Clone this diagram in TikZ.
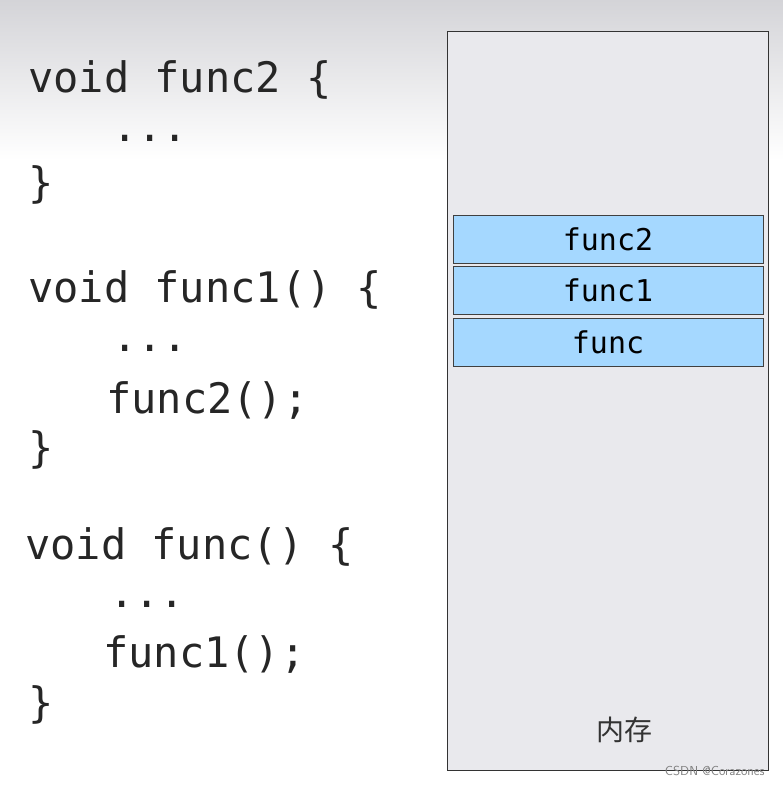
\documentclass[tikz,border=0pt]{standalone}
\usepackage{fontspec}
\setmonofont{DejaVu Sans Mono}
\newfontfamily\cjk{Noto Sans CJK SC}
\definecolor{memgray}{HTML}{E9E9ED}
\definecolor{framebg}{HTML}{D4D4D8}
\definecolor{stackblue}{HTML}{A5D8FF}
\tikzset{
  codeline/.style={anchor=west, inner sep=0pt, font=\ttfamily\fontsize{42}{44}\selectfont, text=black!85},
  frame/.style={draw=black!75, fill=stackblue, line width=0.8pt, minimum width=310pt, minimum height=48pt,
    inner sep=0pt, font=\ttfamily\fontsize{30}{32}\selectfont},
}
\begin{document}
\begin{tikzpicture}[x=1pt,y=-1pt]
			\useasboundingbox (0,0) rectangle (783,786);
			\fill[white] (0,0) rectangle (783,786);
			\shade[top color=framebg, bottom color=white] (0,0) rectangle (783,160);
			% memory column
			\draw[fill=memgray, line width=1pt, draw=black!80] (447,32) rectangle (768,770);
			\node[frame] (f2) at (608,239) {func2};
			\node[frame] (f1) at (608,290) {func1};
			\node[frame] (f0) at (608,342) {func};
			\node[font=\cjk\fontsize{28}{30}\selectfont, text=black!80] (mem) at (624,730) {内存};
			% code
			\node[codeline] (c1) at (28,80) {void func2 \{};
			\node[codeline] (c2) at (112,138) {...};
			\node[codeline] (c3) at (28,185) {\}};
			\node[codeline] (c4) at (28,290) {void func1() \{};
			\node[codeline] (c5) at (112,348) {...};
			\node[codeline] (c6) at (106,400) {func2();};
			\node[codeline] (c7) at (28,450) {\}};
			\node[codeline] (c8) at (25,547) {void func() \{};
			\node[codeline] (c9) at (109,604) {...};
			\node[codeline] (c10) at (103,654) {func1();};
			\node[codeline] (c11) at (28,705) {\}};
			\node[font=\sffamily\fontsize{13}{14}\selectfont, text=black!50, anchor=east] (wm) at (768,771) {CSDN @Corazones};
		\end{tikzpicture}
\end{document}
